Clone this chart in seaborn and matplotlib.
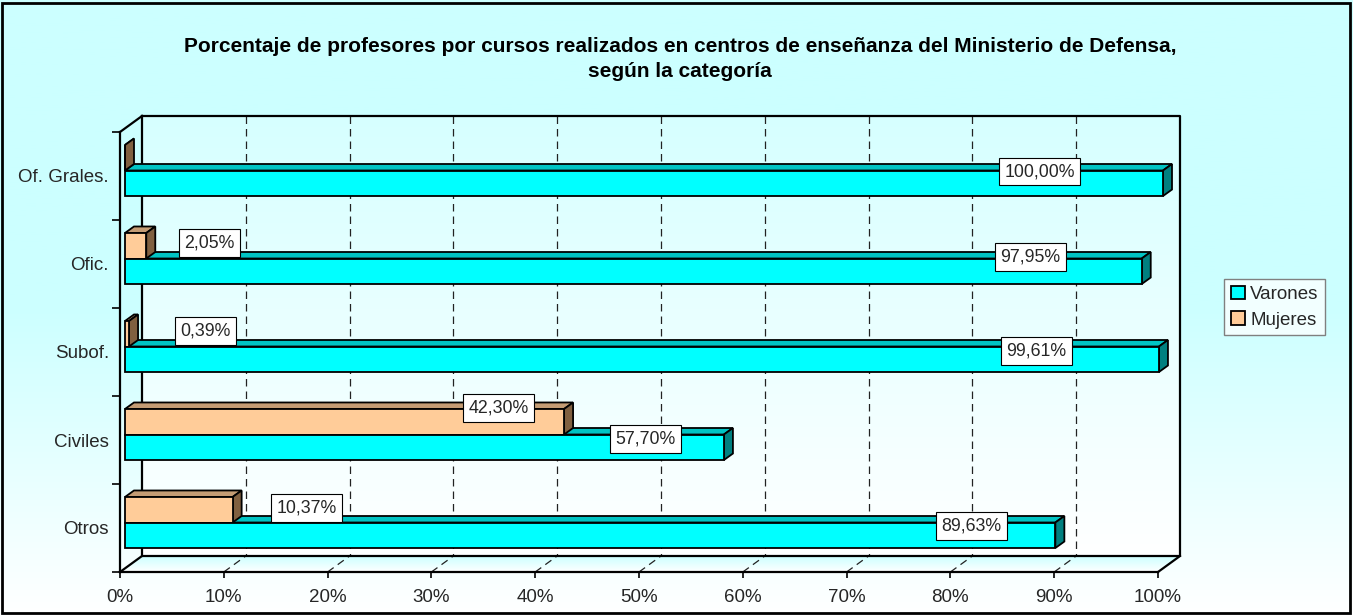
import numpy as np
import pandas as pd
import matplotlib
matplotlib.use('Agg')
import matplotlib.pyplot as plt
import seaborn as sns
from matplotlib.patches import Polygon, Patch, Rectangle
from matplotlib.colors import LinearSegmentedColormap, to_hex

categorias = ['Of. Grales.', 'Ofic.', 'Subof.', 'Civiles', 'Otros']
varones = [100.00, 97.95, 99.61, 57.70, 89.63]
mujeres = [0.00, 2.05, 0.39, 42.30, 10.37]
ticks_x = [0, 10, 20, 30, 40, 50, 60, 70, 80, 90, 100]
titulo = ('Porcentaje de profesores por cursos realizados en centros de enseñanza del Ministerio de Defensa,\n'
          'según la categoría')

df = pd.DataFrame({'categoria': categorias * 2,
                   'sexo': ['Mujeres'] * len(categorias) + ['Varones'] * len(categorias),
                   'valor': mujeres + varones})

# colores tipo excel: frente, arriba, lado
col = {'Varones': ('#00FFFF', '#00C4C4', '#008080'),
       'Mujeres': ('#FFCC99', '#C49C74', '#806040')}

# geometria (px -> unidades de datos)
px_x = 10.38          # px por 1%
px_y = 88.0           # px por categoria
DX, DY = 22 / px_x, -16 / px_y        # profundidad del grafico
bx, by = 5 / px_x, -5.5 / px_y        # frente de las barras
ddx, ddy = 9 / px_x, -6.5 / px_y      # grosor de las barras
ytop = -0.5 + DY
ybot = 4.5

# posicion de las etiquetas de valor (x en %, y en categorias)
lab_v = [(88.6, -0.05), (87.7, 0.92), (88.3, 1.99), (50.6, 2.99), (82.0, 3.98)]
lab_m = [None, (8.6, 0.76), (8.2, 1.76), (36.5, 2.64), (18.0, 3.77)]

sns.set_style('ticks')
plt.rcParams['font.family'] = ['Liberation Sans', 'DejaVu Sans']

fig = plt.figure(figsize=(13.53, 6.15), dpi=100)

# fondo degradado
grad = np.linspace(0, 1, 256).reshape(-1, 1)
bg = fig.add_axes([0, 0, 1, 1], zorder=-10)
bg.imshow(grad, aspect='auto', origin='upper', extent=(0, 1, 0, 1),
          cmap=LinearSegmentedColormap.from_list('bg', ['#CCFFFF', '#CCFFFF', '#FFFFFF']))
bg.axis('off')

ax = fig.add_axes([120 / 1353, 1 - 572 / 615, 1060 / 1353, 456 / 615])
ax.patch.set_alpha(0)

sns.barplot(data=df, y='categoria', x='valor', hue='sexo', order=categorias,
            hue_order=['Mujeres', 'Varones'], orient='h', width=0.58, dodge=True,
            palette={k: v[0] for k, v in col.items()}, saturation=1,
            edgecolor='black', linewidth=1.3, legend=False, ax=ax)

barras = list(ax.patches)
for p in barras:
    fc = to_hex(p.get_facecolor())
    sexo = 'Varones' if fc == col['Varones'][0].lower() else 'Mujeres'
    x0, y0 = p.get_x() + bx, p.get_y() + by
    w, h = p.get_width(), p.get_height()
    p.set_x(x0)
    p.set_y(y0)
    p.set_zorder(5)
    arriba = Polygon([(x0, y0), (x0 + w, y0), (x0 + w + ddx, y0 + ddy), (x0 + ddx, y0 + ddy)],
                     closed=True, fc=col[sexo][1], ec='black', lw=1.3, zorder=3)
    lado = Polygon([(x0 + w, y0), (x0 + w, y0 + h), (x0 + w + ddx, y0 + h + ddy), (x0 + w + ddx, y0 + ddy)],
                   closed=True, fc=col[sexo][2], ec='black', lw=1.3, zorder=4)
    ax.add_patch(arriba)
    ax.add_patch(lado)

# pared del fondo y suelo
ax.imshow(grad, aspect='auto', origin='upper', extent=(DX, 100 + DX, ybot + DY, ytop), zorder=0,
          cmap=LinearSegmentedColormap.from_list('pared', ['#D6FFFF', '#FFFFFF']))
suelo = Polygon([(0, ybot), (100, ybot), (100 + DX, ybot + DY), (DX, ybot + DY)],
                closed=True, fc='none', ec='none')
ax.add_patch(suelo)
im = ax.imshow(grad, aspect='auto', origin='upper', extent=(0, 100 + DX, ybot, ybot + DY), zorder=0,
               cmap=LinearSegmentedColormap.from_list('suelo', ['#CCFFFF', '#FFFFFF']))
im.set_clip_path(suelo)

for t in ticks_x[1:-1]:
    ax.plot([t + DX, t + DX], [ytop, ybot + DY], color='#222222', lw=0.9, ls=(0, (6, 4)), zorder=1)
    ax.plot([t, t + DX], [ybot, ybot + DY], color='#222222', lw=0.9, ls=(0, (6, 4)), zorder=1)

marco = dict(color='black', lw=1.6, zorder=2, clip_on=False, solid_capstyle='projecting')
ax.plot([DX, 100 + DX, 100 + DX, DX, DX], [ytop, ytop, ybot + DY, ybot + DY, ytop], **marco)
ax.plot([0, DX], [-0.5, ytop], **marco)
ax.plot([0, DX], [ybot, ybot + DY], **marco)
ax.plot([100, 100 + DX], [ybot, ybot + DY], **marco)

# etiquetas de valor
fmt = lambda v: f'{v:.2f}'.replace('.', ',') + '%'
caja = dict(boxstyle='square,pad=0.3', fc='white', ec='black', lw=0.8)
for v, pos in zip(varones, lab_v):
    ax.text(pos[0], pos[1], fmt(v), ha='center', va='center', fontsize=12.8, bbox=caja, zorder=8)
for v, pos in zip(mujeres, lab_m):
    if pos is not None:
        ax.text(pos[0], pos[1], fmt(v), ha='center', va='center', fontsize=12.8, bbox=caja, zorder=8)

# ejes
ax.set_xlim(0, 1060 / px_x)
ax.set_ylim(ybot, ytop)
ax.set_xlabel('')
ax.set_ylabel('')
ax.set_xticks(ticks_x)
ax.set_xticklabels([f'{t}%' for t in ticks_x])
ax.set_yticks(range(len(categorias)))
ax.set_yticklabels(categorias)
ax.set_yticks(np.arange(-0.5, len(categorias), 1.0), minor=True)
ax.set_xticks([], minor=True)
ax.tick_params(axis='x', length=4, width=1.2, pad=8, labelsize=13.5, color='black')
ax.tick_params(axis='y', which='major', length=0, pad=8, labelsize=13.5)
ax.tick_params(axis='y', which='minor', length=6, width=1.2, color='black')
for s in ['top', 'right']:
    ax.spines[s].set_visible(False)
ax.spines['left'].set_bounds(-0.5, ybot)
ax.spines['bottom'].set_bounds(0, 100)
for s in ['left', 'bottom']:
    ax.spines[s].set_linewidth(1.6)
    ax.spines[s].set_color('black')
    ax.spines[s].set_zorder(6)

# leyenda
handles = [Patch(fc=col['Varones'][0], ec='black', lw=1.3, label='Varones'),
           Patch(fc=col['Mujeres'][0], ec='black', lw=1.3, label='Mujeres')]
leg = fig.legend(handles=handles, loc='upper left', bbox_to_anchor=(1224 / 1353, 1 - 279 / 615),
                 frameon=True, fancybox=False, edgecolor='#808080', facecolor='#F2FFFF', framealpha=1,
                 fontsize=13.5, handlelength=0.75, handleheight=0.75, handletextpad=0.3,
                 borderpad=0.35, labelspacing=0.45, borderaxespad=0)
leg.get_frame().set_linewidth(1)

fig.text(680 / 1353, 1 - 59 / 615, titulo, ha='center', va='center', fontsize=15,
         fontweight='bold', linespacing=1.35, color='black')

fig.patches.append(Rectangle((0.0015, 0.003), 0.9965, 0.992, transform=fig.transFigure,
                             fill=False, ec='black', lw=2))

fig.savefig('out.png', dpi=100)
